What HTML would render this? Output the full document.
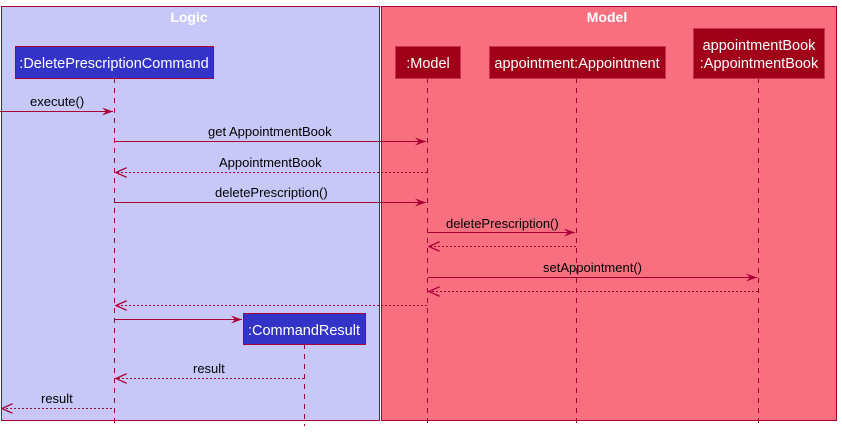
<!DOCTYPE html>
<html><head><meta charset="utf-8"><style>body{margin:0;background:#fff}</style></head><body>
<svg width="842" height="432" xmlns="http://www.w3.org/2000/svg" font-family="Liberation Sans, sans-serif" font-size="13">
<defs>
<marker id="a" markerWidth="12" markerHeight="10" refX="11" refY="5" orient="auto" markerUnits="userSpaceOnUse"><path d="M0,1 L11,5 L0,9 L4,5 Z" fill="#A80036"/></marker>
<marker id="o" markerWidth="12" markerHeight="10" refX="11" refY="5" orient="auto" markerUnits="userSpaceOnUse"><path d="M0,0 L11,5 L0,10" fill="none" stroke="#A80036" stroke-width="1.3"/></marker>
</defs>
<rect x="1.5" y="6.5" width="378" height="414" fill="#C8C8F8" stroke="#A80036"/>
<rect x="381.5" y="6.5" width="455" height="414" fill="#F87080" stroke="#A80036"/>
<text x="189" y="22" text-anchor="middle" font-weight="bold" font-size="14" fill="#fff">Logic</text>
<text x="607" y="22" text-anchor="middle" font-weight="bold" font-size="14" fill="#fff">Model</text>
<g stroke="#A80036" stroke-dasharray="5,5">
<line x1="114.5" y1="78" x2="114.5" y2="426"/>
<line x1="427.5" y1="78" x2="427.5" y2="426"/>
<line x1="576.5" y1="78" x2="576.5" y2="426"/>
<line x1="758.5" y1="78" x2="758.5" y2="426"/>
<line x1="304.5" y1="344" x2="304.5" y2="426"/>
</g>
<rect x="15.5" y="46.5" width="198" height="32" fill="#3333C8" stroke="#A80036"/>
<text x="114" y="68" text-anchor="middle" fill="#fff" font-size="14.5">:DeletePrescriptionCommand</text>
<rect x="395.5" y="46.5" width="65" height="32" fill="#A00018" stroke="#C83050"/>
<text x="428" y="68" text-anchor="middle" fill="#fff" font-size="14.5">:Model</text>
<rect x="489.5" y="46.5" width="176" height="32" fill="#A00018" stroke="#C83050"/>
<text x="577" y="68" text-anchor="middle" fill="#fff" font-size="14.5">appointment:Appointment</text>
<rect x="693.5" y="28.5" width="131" height="50" fill="#A00018" stroke="#C83050"/>
<text x="759" y="50" text-anchor="middle" fill="#fff" font-size="14.5">appointmentBook</text>
<text x="759" y="68" text-anchor="middle" fill="#fff" font-size="14.5">:AppointmentBook</text>
<rect x="243.5" y="313.5" width="122" height="31" fill="#3333C8" stroke="#A80036"/>
<text x="304" y="335" text-anchor="middle" fill="#fff" font-size="14.5">:CommandResult</text>
<g stroke="#A80036" fill="none">
<line x1="0" y1="111.5" x2="113" y2="111.5" marker-end="url(#a)"/>
<line x1="115" y1="141.5" x2="426" y2="141.5" marker-end="url(#a)"/>
<line x1="427" y1="172.5" x2="116" y2="172.5" stroke-dasharray="2,2" marker-end="url(#o)"/>
<line x1="115" y1="202.5" x2="426" y2="202.5" marker-end="url(#a)"/>
<line x1="428" y1="232.5" x2="575" y2="232.5" marker-end="url(#a)"/>
<line x1="576" y1="246.5" x2="429" y2="246.5" stroke-dasharray="2,2" marker-end="url(#o)"/>
<line x1="428" y1="277.5" x2="757" y2="277.5" marker-end="url(#a)"/>
<line x1="758" y1="291.5" x2="429" y2="291.5" stroke-dasharray="2,2" marker-end="url(#o)"/>
<line x1="427" y1="305.5" x2="116" y2="305.5" stroke-dasharray="2,2" marker-end="url(#o)"/>
<line x1="115" y1="319.5" x2="242" y2="319.5" marker-end="url(#a)"/>
<line x1="304" y1="378.5" x2="116" y2="378.5" stroke-dasharray="2,2" marker-end="url(#o)"/>
<line x1="112" y1="408.5" x2="2" y2="408.5" stroke-dasharray="2,2" marker-end="url(#o)"/>
</g>
<g fill="#000">
<text x="30" y="106">execute()</text>
<text x="208" y="136">get AppointmentBook</text>
<text x="219" y="167">AppointmentBook</text>
<text x="215" y="197">deletePrescription()</text>
<text x="446" y="228">deletePrescription()</text>
<text x="543" y="272">setAppointment()</text>
<text x="193" y="373">result</text>
<text x="41" y="403">result</text>
</g>
</svg>
</body></html>
